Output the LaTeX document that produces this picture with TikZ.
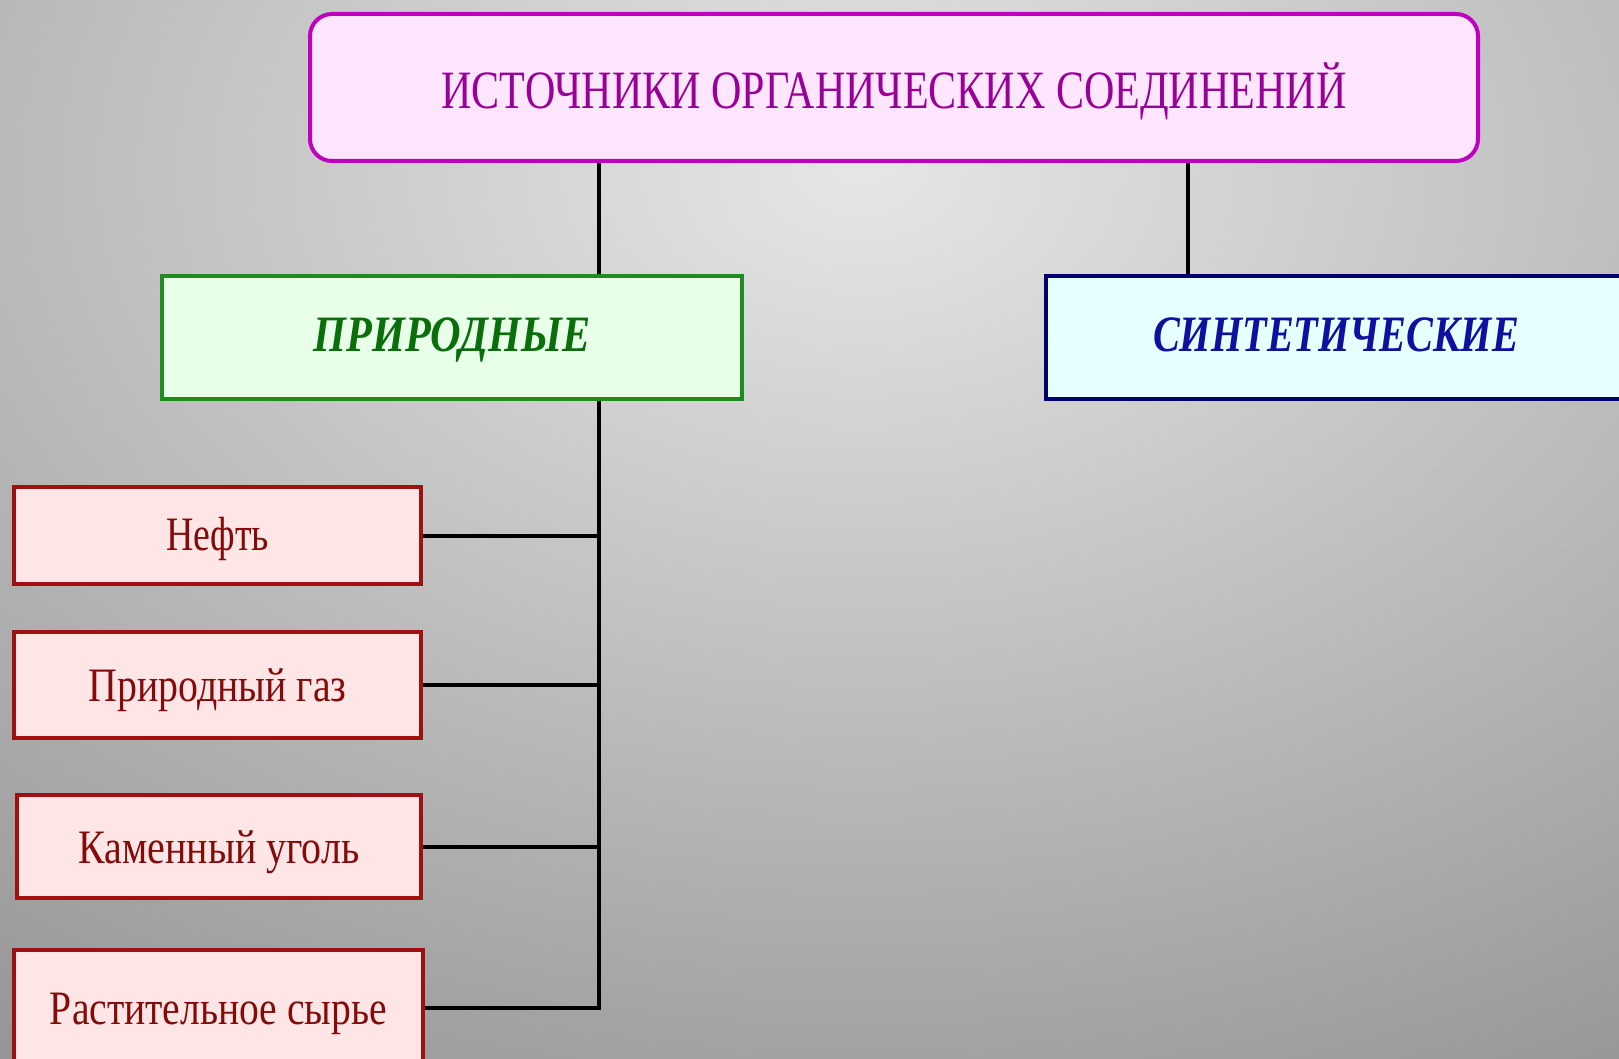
\documentclass[tikz,border=0pt]{standalone}
\usepackage{fontspec}
\setmainfont{Liberation Serif}
\usepackage{graphicx}
\definecolor{bgin}{HTML}{E6E6E6}
\definecolor{bgout}{HTML}{8E8E8E}
\definecolor{topborder}{HTML}{C000C0}
\definecolor{topfill}{HTML}{FFE6FF}
\definecolor{toptext}{HTML}{990099}
\definecolor{natborder}{HTML}{1E8C1E}
\definecolor{natfill}{HTML}{E8FFE8}
\definecolor{nattext}{HTML}{0A6E0A}
\definecolor{synborder}{HTML}{000070}
\definecolor{synfill}{HTML}{E6FFFF}
\definecolor{syntext}{HTML}{1010A0}
\definecolor{leafborder}{HTML}{A01010}
\definecolor{leaffill}{HTML}{FFE6E6}
\definecolor{leaftext}{HTML}{850A0A}
\pgfdeclareradialshading{bgshade}{\pgfpoint{0bp}{0bp}}{color(0bp)=(bgin); color(25bp)=(bgout); color(50bp)=(bgout)}
\newcommand{\fitw}[3]{{\fontsize{#2}{#2}\selectfont\resizebox{#1}{\height}{#3}}}
\tikzset{
  topbox/.style={draw=topborder, fill=topfill, text=toptext, line width=4pt, rounded corners=22pt,
    minimum width=1168pt, minimum height=147pt, inner sep=0pt, text height=42pt, text depth=0pt},
  natbox/.style={draw=natborder, fill=natfill, text=nattext, line width=3.8pt,
    minimum width=580pt, minimum height=123.5pt, inner sep=0pt, text height=27pt, text depth=0pt},
  synbox/.style={draw=synborder, fill=synfill, text=syntext, line width=3.8pt,
    minimum width=580pt, minimum height=123.5pt, inner sep=0pt, text height=27pt, text depth=0pt},
  leafbox/.style={draw=leafborder, fill=leaffill, text=leaftext, line width=3.8pt,
    minimum width=407.5pt, inner sep=0pt, text height=33pt, text depth=0pt},
  conn/.style={draw=black, line width=4pt}
}
\begin{document}
\begin{tikzpicture}[x=1pt,y=-1pt]
\useasboundingbox (0,0) rectangle (1619,1059);
\begin{scope}
\clip (0,0) rectangle (1619,1059);
\fill[bgout] (0,0) rectangle (1619,1059);
\shade[shading=bgshade] (860,170) ellipse [x radius=1700pt, y radius=1150pt];
\end{scope}

\coordinate (trunk) at (599,0);
\coordinate (trunkR) at (1188,0);

\node[topbox] (top) at (894,87.5) {\fitw{905pt}{54pt}{ИСТОЧНИКИ ОРГАНИЧЕСКИХ СОЕДИНЕНИЙ}};
\node[natbox] (nat) at (452,337.5) {\fitw{277pt}{51pt}{\bfseries\itshape ПРИРОДНЫЕ}};
\node[synbox] (syn) at (1336,337.5) {\fitw{366pt}{51pt}{\bfseries\itshape СИНТЕТИЧЕСКИЕ}};

\node[leafbox, minimum height=97.5pt, text height=30pt] (nef) at (217.5,535.5) {\fitw{103pt}{48pt}{Нефть}};
\node[leafbox, minimum height=106.5pt] (gas) at (217.5,685) {\fitw{258pt}{48pt}{Природный газ}};
\node[leafbox, minimum width=404.5pt, minimum height=103.5pt] (coal) at (219,846.5) {\fitw{281pt}{48pt}{Каменный уголь}};
\node[leafbox, minimum width=409.5pt, minimum height=116.5pt] (veg) at (218.5,1008) {\fitw{337pt}{48pt}{Растительное сырье}};

\draw[conn] (trunk |- top.south) -- (trunk |- nat.north);
\draw[conn] (trunkR |- top.south) -- (trunkR |- syn.north);
\draw[conn] (trunk |- nat.south) -- (trunk |- veg.east) -- (veg.east);
\draw[conn] (nef.east) -- (nef.east -| trunk);
\draw[conn] (gas.east) -- (gas.east -| trunk);
\draw[conn] (coal.east) -- (coal.east -| trunk);
\end{tikzpicture}
\end{document}
